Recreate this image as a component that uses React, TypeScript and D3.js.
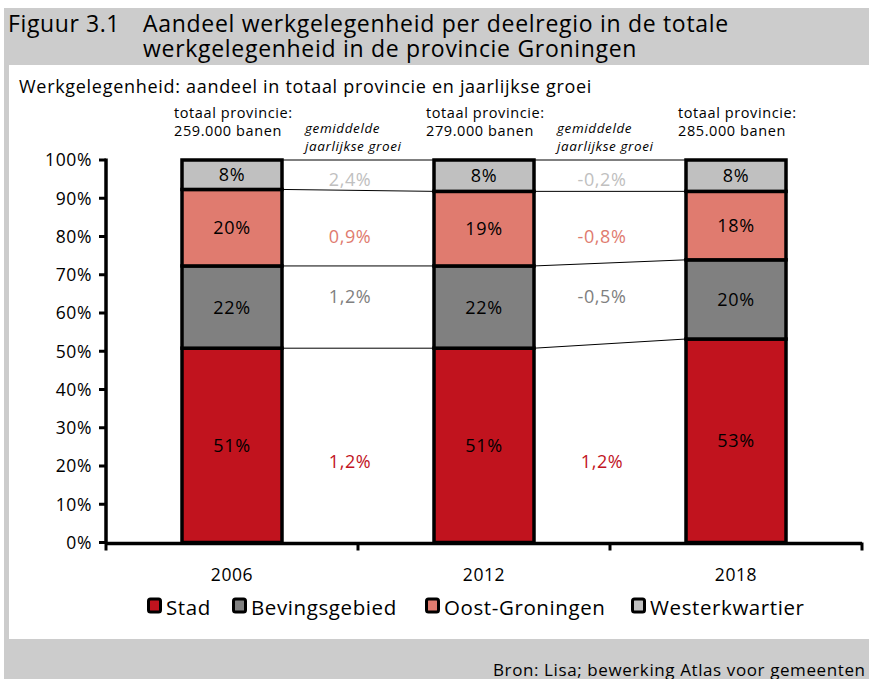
import React from "react";
import * as d3 from "d3";

const years = ["2006", "2012", "2018"];
const series = ["Stad", "Bevingsgebied", "Oost-Groningen", "Westerkwartier"];
const colors = ["#c1131e", "#808080", "#e07b6f", "#c0c0c0"];
const growthColors = ["#c1131e", "#808080", "#e07b6f", "#c0c0c0"];
// shares per year (percent), bottom to top: Stad, Bevingsgebied, Oost-Groningen, Westerkwartier
const stad = [50.8, 50.8, 53.2];
const beving = [21.5, 21.5, 20.7];
const oost = [20.0, 19.5, 17.9];
const west = [7.7, 8.2, 8.2];
const shareLabels = [
  ["51%", "22%", "20%", "8%"],
  ["51%", "22%", "19%", "8%"],
  ["53%", "20%", "18%", "8%"],
];
const totals = ["259.000 banen", "279.000 banen", "285.000 banen"];
// growth between periods, per series (Stad, Beving, Oost, West)
const growth = [
  ["1,2%", "1,2%", "0,9%", "2,4%"],
  ["1,2%", "-0,5%", "-0,8%", "-0,2%"],
];
const growthLevel = [21.3, 64.2, 79.9, 94.8];
const yTicks = [0, 10, 20, 30, 40, 50, 60, 70, 80, 90, 100];

const FONT = "'Open Sans', 'Noto Sans', sans-serif";
const LS = 0.6;

export default function App() {
  const W = 869, H = 679;
  const x0 = 106, x1 = 862;
  const yTop = 160, yBot = 542.5;
  const x = d3.scaleBand<string>().domain(years).range([x0, x1]).paddingInner(0).paddingOuter(0);
  const y = d3.scaleLinear().domain([0, 100]).range([yBot, yTop]);
  const barW = 100;
  const data = years.map((yr, i) => ({ year: yr, Stad: stad[i], Bevingsgebied: beving[i], "Oost-Groningen": oost[i], Westerkwartier: west[i] }));
  const stack = d3.stack<any>().keys(series)(data);
  const cx = (yr: string) => (x(yr) as number) + x.bandwidth() / 2;
  const bl = (yr: string) => cx(yr) - barW / 2;
  const br = (yr: string) => cx(yr) + barW / 2;

  const bounds = years.map((_, i) => stack.map((s) => s[i][1]));

  return (
    <svg width={W} height={H} style={{ display: "block", position: "absolute", left: 0, top: 0 }} fontFamily={FONT} letterSpacing={LS}>
      <rect x={0} y={0} width={W} height={H} fill="#fff" />
      <rect x={4} y={8} width={W - 4} height={H - 8} fill="#cccccc" />
      <rect x={9} y={65} width={W - 9} height={574} fill="#fff" />
      <text x={8} y={32} fontSize={23} fill="#000">Figuur 3.1</text>
      <text x={143} y={32} fontSize={23} letterSpacing={0.7} fill="#000">Aandeel werkgelegenheid per deelregio in de totale</text>
      <text x={143} y={57} fontSize={23} letterSpacing={0.7} fill="#000">werkgelegenheid in de provincie Groningen</text>
      <text x={19} y={93} fontSize={18} letterSpacing={0.7} fill="#000">Werkgelegenheid: aandeel in totaal provincie en jaarlijkse groei</text>

      {/* connecting lines */}
      {years.slice(0, -1).map((yr, i) => (
        <g key={"c" + yr}>
          {bounds[i].map((b, k) => (
            <line key={k} x1={br(yr)} x2={bl(years[i + 1])} y1={y(b)} y2={y(bounds[i + 1][k])} stroke="#000" strokeWidth={1} />
          ))}
        </g>
      ))}

      {/* bars */}
      {stack.map((s, si) => (
        <g key={s.key}>
          {s.map((d, i) => (
            <rect key={i} x={bl(years[i])} width={barW} y={y(d[1])} height={y(d[0]) - y(d[1])} fill={colors[si]} stroke="#000" strokeWidth={3.5} />
          ))}
        </g>
      ))}
      {stack.map((s, si) => (
        <g key={"l" + s.key}>
          {s.map((d, i) => (
            <text key={i} x={cx(years[i])} y={y((d[0] + d[1]) / 2)} dy="0.36em" textAnchor="middle" fontSize={18} fill="#000">
              {shareLabels[i][si]}
            </text>
          ))}
        </g>
      ))}

      {/* totals */}
      {years.map((yr, i) => (
        <g key={"t" + yr}>
          <text x={cx(yr) - 58} y={118} fontSize={14.5} fill="#000">totaal provincie:</text>
          <text x={cx(yr) - 58} y={136} fontSize={14.5} fill="#000">{totals[i]}</text>
        </g>
      ))}

      {/* growth */}
      {years.slice(0, -1).map((yr, i) => {
        const gx = (br(yr) + bl(years[i + 1])) / 2;
        return (
          <g key={"g" + yr}>
            <text x={gx - 53} y={133} fontSize={13.5} fontStyle="italic" fill="#000">gemiddelde</text>
            <text x={gx - 53} y={151} fontSize={13.5} fontStyle="italic" fill="#000">jaarlijkse groei</text>
            {growth[i].map((g, k) => (
              <text key={k} x={gx - 8} y={y(growthLevel[k])} dy="0.36em" textAnchor="middle" fontSize={18} fill={growthColors[k]}>
                {g}
              </text>
            ))}
          </g>
        );
      })}

      {/* y axis */}
      <line x1={x0} x2={x0} y1={yTop - 1.5} y2={yBot + 1.5} stroke="#000" strokeWidth={3.5} />
      {yTicks.map((t) => (
        <g key={t}>
          <line x1={x0 - 7} x2={x0} y1={y(t)} y2={y(t)} stroke="#000" strokeWidth={3} />
          <text x={92} y={y(t)} dy="0.36em" textAnchor="end" fontSize={17.5} fill="#000">{t}%</text>
        </g>
      ))}
      {/* x axis */}
      <line x1={x0} x2={x1} y1={yBot + 1} y2={yBot + 1} stroke="#000" strokeWidth={3.5} />
      {[...years.map((yr) => x(yr) as number), x1].map((t, i) => (
        <line key={i} x1={t} x2={t} y1={yBot} y2={yBot + 8} stroke="#000" strokeWidth={3} />
      ))}
      {years.map((yr) => (
        <text key={"x" + yr} x={cx(yr)} y={581} textAnchor="middle" fontSize={17.5} fill="#000">{yr}</text>
      ))}

      {/* legend */}
      {series.map((s, i) => {
        const lx = [147, 232, 425, 631][i];
        return (
          <g key={"lg" + s}>
            <rect x={lx + 1.5} y={599} width={12} height={13} rx={2} fill={colors[i]} stroke="#000" strokeWidth={3} />
            <text x={lx + 19} y={615} fontSize={20.5} fill="#000">{s}</text>
          </g>
        );
      })}

      <text x={493} y={676} fontSize={17} fill="#000">Bron: Lisa; bewerking Atlas voor gemeenten</text>
    </svg>
  );
}
